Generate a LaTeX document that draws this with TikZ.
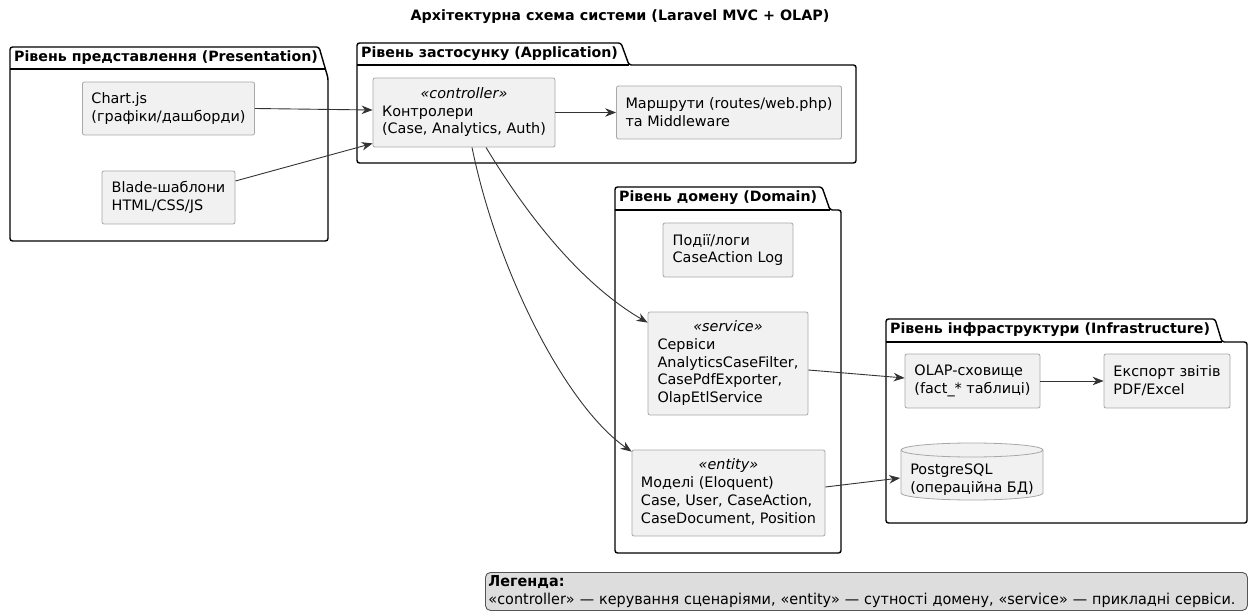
\documentclass[tikz,border=0pt]{standalone}
\usepackage{fontspec}
\setmainfont{DejaVu Sans}
\newfontfamily\condfont[FakeStretch=0.96]{DejaVu Sans}
\usetikzlibrary{arrows.meta,calc}
\definecolor{boxfill}{HTML}{F1F1F1}
\definecolor{boxline}{HTML}{A8A8A8}
\definecolor{linkc}{HTML}{333333}
\definecolor{legfill}{HTML}{DDDDDD}
\definecolor{legline}{HTML}{555555}
\newcommand\stereobox[2]{\begin{tabular}{@{}l@{}}\multicolumn{1}{@{}c@{}}{\itshape«#1»}\\#2\end{tabular}}
\begin{document}
\begin{tikzpicture}[x=1pt,y=-1pt,
  every node/.style={font=\fontsize{14.4}{17.8}\selectfont},
  comp/.style={draw=boxline, fill=boxfill, rounded corners=2pt, line width=0.8pt,
               inner xsep=9pt, inner ysep=6pt, align=left},
  pkgshape/.style={draw=black, line width=1.4pt, fill=white, rounded corners=2.5pt},
  pkglabel/.style={anchor=west, font=\fontsize{14.2}{17}\selectfont\bfseries, inner sep=0pt},
  link/.style={draw=linkc, line width=0.9pt, -{Stealth[length=11pt,width=8.5pt,inset=3.5pt]}},
]
\useasboundingbox (0,0) rectangle (1252,612);

% title
\node[font=\fontsize{14.3}{17}\selectfont\bfseries] (title) at (620,17)
  {Архітектурна схема системи (Laravel MVC + OLAP)};

% packages
\draw[pkgshape] (10,241) -- (10,47) -- (319,47) -- (328,78) -- (328,241) -- cycle;
\draw[line width=1.4pt] (10,69) -- (325,69);
\node[pkglabel] (lpres) at (14,58) {Рівень представлення (Presentation)};

\draw[pkgshape] (357,163) -- (357,43) -- (621,43) -- (629,65) -- (856,65) -- (856,163) -- cycle;
\draw[line width=1.4pt] (357,65) -- (629,65);
\node[pkglabel] (lapp) at (361,54) {Рівень застосунку (Application)};

\draw[pkgshape] (615,553) -- (615,187) -- (822,187) -- (830,210) -- (841,210) -- (841,553) -- cycle;
\draw[line width=1.4pt] (615,210) -- (830,210);
\node[pkglabel] (ldom) at (619,198) {Рівень домену (Domain)};

\draw[pkgshape] (886,523) -- (886,319) -- (1215,319) -- (1222,342) -- (1247,342) -- (1247,523) -- cycle;
\draw[line width=1.4pt] (886,342) -- (1222,342);
\node[pkglabel] (linf) at (890,330) {Рівень інфраструктури (Infrastructure)};

% components
\node[comp, minimum width=171pt, minimum height=53pt] (chart) at (168.5,108.5)
  {Chart.js\\(графіки/дашборди)};
\node[comp, minimum width=133pt, minimum height=53pt] (blade) at (168.5,197.5)
  {Blade-шаблони\\HTML/CSS/JS};
\node[comp, minimum width=182pt, minimum height=69pt] (ctrl) at (464,112.5)
  {\stereobox{controller}{Контролери\\(Case, Analytics, Auth)}};
\node[comp, minimum width=224pt, minimum height=53pt] (routes) at (729,112.5)
  {Маршрути (routes/web.php)\\та Middleware};
\node[comp, minimum width=130pt, minimum height=54pt] (events) at (728,250)
  {Події/логи\\CaseAction Log};
\node[comp, minimum width=160pt, minimum height=103pt] (service) at (728,363.5)
  {\stereobox{service}{Сервіси\\AnalyticsCaseFilter,\\CasePdfExporter,\\OlapEtlService}};
\node[comp, minimum width=193pt, minimum height=86pt] (entity) at (728.5,493)
  {\stereobox{entity}{Моделі (Eloquent)\\Case, User, CaseAction,\\CaseDocument, Position}};
\node[comp, minimum width=135pt, minimum height=54pt] (olap) at (972.5,381)
  {OLAP-сховище\\(fact\_* таблиці)};
\node[comp, minimum width=126pt, minimum height=54pt] (export) at (1167,381)
  {Експорт звітів\\PDF/Excel};

% database cylinder
\draw[draw=boxline, fill=boxfill, line width=0.8pt]
  (901,450) -- (901,493) arc[start angle=180, end angle=360, x radius=71pt, y radius=7pt]
  -- (1043,450) arc[start angle=0, end angle=180, x radius=71pt, y radius=7pt] -- cycle;
\draw[draw=boxline, line width=0.8pt]
  (901,450) arc[start angle=180, end angle=360, x radius=71pt, y radius=7pt];
\node[minimum width=142pt, minimum height=40pt, align=left, inner xsep=10pt] (pg) at (972,480)
  {PostgreSQL\\(операційна БД)};

% connectors
\draw[link] (chart.east) -- ([yshift=2.5pt]ctrl.west);
\draw[link] ([yshift=16.5pt]blade.east) -- ([yshift=4pt]ctrl.south west);
\draw[link] (ctrl.east) -- (routes.west);
\draw[link] ([xshift=22pt]ctrl.south) .. controls (545,245) and (600,295) .. ([yshift=-11pt]service.north west);
\draw[link] ([xshift=8pt]ctrl.south) .. controls (497,270) and (565,405) .. ([yshift=-2pt]entity.north west);
\draw[link] ([yshift=-6.5pt]service.east) -- ([yshift=3pt]olap.west);
\draw[link] (olap.east) -- (export.west);
\draw[link] ([yshift=6pt]entity.east) -- ([yshift=2pt]pg.west);

% legend
\node[draw=legline, fill=legfill, rounded corners=5pt, line width=0.9pt, align=left,
      inner xsep=3pt, inner ysep=1.5pt, anchor=north west, text width=756pt, minimum height=38pt,
      font=\condfont\fontsize{15}{18}\selectfont] (legend) at (485,572)
  {\textbf{Легенда:}\\«controller» — керування сценаріями, «entity» — сутності домену, «service» — прикладні сервіси.};
\end{tikzpicture}
\end{document}
